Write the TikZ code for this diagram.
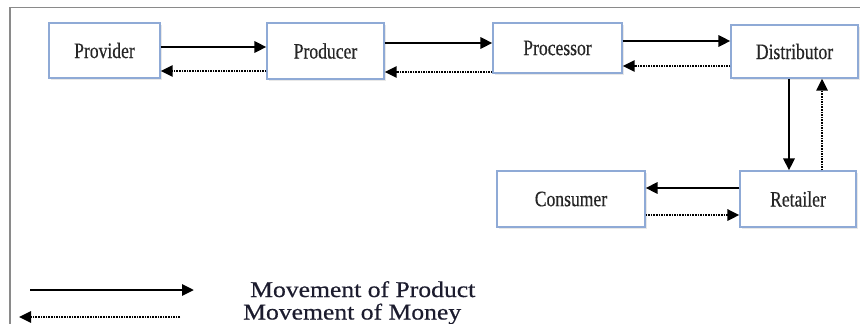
\documentclass[tikz,border=0pt]{standalone}
\usepackage{fontspec}
\setmainfont{Liberation Serif}
\newfontfamily\boxfont[FakeStretch=0.8,FakeBold=0.4]{Liberation Serif}
\newfontfamily\legendfont[FakeStretch=1.14,FakeBold=0.6]{Liberation Serif}
\usetikzlibrary{arrows.meta,shadows}
\definecolor{boxblue}{HTML}{8FAAD6}
\definecolor{framegray}{HTML}{8A8A8A}
\definecolor{legendink}{HTML}{1C1C2E}
\tikzset{
  x=1pt, y=-1pt,
  stage/.style={draw=boxblue, line width=1.1pt, fill=white,
    drop shadow={opacity=0.18, shadow xshift=1.5pt, shadow yshift=-2pt},
    inner sep=0pt, font=\boxfont\fontsize{22}{24}\selectfont, text=black!85},
  product/.style={line width=2.8pt, -{Triangle[length=12pt,width=11pt]}},
  money/.style={line width=2.6pt, black, dash pattern=on 1.7pt off 0.9pt,
    -{Triangle[length=12pt,width=11pt]}},
  legendtext/.style={anchor=base west, inner sep=0pt, text=legendink,
    font=\legendfont\fontsize{22.5}{24}\selectfont},
}
\begin{document}
\begin{tikzpicture}
\useasboundingbox (0,0) rectangle (860,324);
% outer frame (top and left edges only)
\draw[framegray, line width=1.6pt] (10,326) -- (10,7.5) -- (862,7.5);

% supply chain stages
\node[stage, minimum width=111pt, minimum height=55pt] (prov) at (104.5,50.5) {Provider};
\node[stage, minimum width=117pt, minimum height=56pt] (prod) at (325.5,51) {Producer};
\node[stage, minimum width=129pt, minimum height=50pt] (proc) at (557.5,48) {Processor};
\node[stage, minimum width=127pt, minimum height=53pt] (dist) at (794.5,51.5) {Distributor};
\node[stage, minimum width=148pt, minimum height=56pt] (cons) at (571,199) {Consumer};
\node[stage, minimum width=116pt, minimum height=56pt] (reta) at (798,199) {Retailer};

% product flow (solid) and money flow (dotted)
\draw[product] ([yshift=3.5pt]prov.east) -- ([yshift=3.5pt]prov.east -| prod.west);
\draw[money] ([yshift=-20.5pt]prov.east -| prod.west) -- ([yshift=-20.5pt]prov.east);

\draw[product] ([yshift=8pt]prod.east) -- ([yshift=8pt]prod.east -| proc.west);
\draw[money] ([yshift=-24pt]proc.west) -- ([yshift=-24pt]proc.west -| prod.east);

\draw[product] ([yshift=7pt]proc.east) -- ([yshift=7pt]proc.east -| dist.west);
\draw[money] ([yshift=-14.5pt]dist.west) -- ([yshift=-14.5pt]dist.west -| proc.east);

\draw[product] ([xshift=-5.5pt]dist.south) -- ([xshift=-5.5pt]dist.south |- reta.north);
\draw[money] ([xshift=24pt]reta.north) -- ([xshift=24pt]reta.north |- dist.south);

\draw[product] ([yshift=11pt]reta.west) -- ([yshift=11pt]reta.west -| cons.east);
\draw[money] ([yshift=-16pt]cons.east) -- ([yshift=-16pt]cons.east -| reta.west);

% legend
\coordinate (lp1) at (30,290);
\coordinate (lp2) at (194,290);
\coordinate (lm1) at (180,317);
\coordinate (lm2) at (19,317);
\draw[product] (lp1) -- (lp2);
\draw[money] (lm1) -- (lm2);
\node[legendtext] (lgp) at (250,297) {Movement of Product};
\node[legendtext] (lgm) at (243,319.5) {Movement of Money};
\end{tikzpicture}
\end{document}
